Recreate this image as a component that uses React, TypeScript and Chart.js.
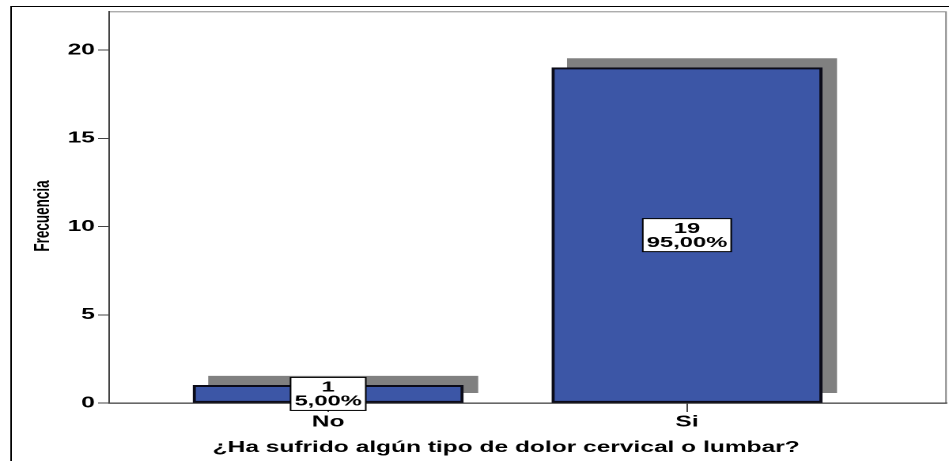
import React, { useEffect, useRef } from 'react';
import { Chart, registerables } from 'chart.js';

Chart.register(...registerables);

// ---- data ----
const categories = ['No', 'Si'];
const frequencies = [1, 19];
const percentLabels = ['5,00%', '95,00%'];
const yTicks = [0, 5, 10, 15, 20];
const yTitle = 'Frecuencia';
const xTitle = '¿Ha sufrido algún tipo de dolor cervical o lumbar?';

// ---- layout (canvas drawn at 600px wide, stretched to 949px like the source image) ----
const CW = 600;
const CH = 461;
const FONT = '"Liberation Sans", Arial, Helvetica, sans-serif';
const BAR_FILL = '#3C56A6';
const SHADOW = '#808080';
const AXIS = '#444444';

const spssPlugin = {
  id: 'spssDecor',
  beforeDraw(chart: any) {
    const { ctx, chartArea: a } = chart;
    ctx.save();
    ctx.strokeStyle = '#000';
    ctx.lineWidth = 1;
    ctx.strokeRect(7, 6.5, 900, 700);
    ctx.strokeStyle = '#8a8a8a';
    ctx.strokeRect(a.left, a.top + 0.5, a.right - a.left - 0.6, a.bottom - a.top);
    ctx.restore();
  },
  beforeDatasetsDraw(chart: any) {
    const { ctx } = chart;
    const meta = chart.getDatasetMeta(0);
    ctx.save();
    ctx.fillStyle = SHADOW;
    meta.data.forEach((bar: any) => {
      const { x, y, base, width } = bar.getProps(['x', 'y', 'base', 'width'], true);
      ctx.fillRect(x - width / 2 + 9.5, y - 9.5, width, base - y);
    });
    ctx.restore();
  },
  afterDatasetsDraw(chart: any) {
    const { ctx } = chart;
    const meta = chart.getDatasetMeta(0);
    ctx.save();
    ctx.font = `bold 15px ${FONT}`;
    ctx.textAlign = 'center';
    ctx.textBaseline = 'middle';
    meta.data.forEach((bar: any, i: number) => {
      const { x, y, base } = bar.getProps(['x', 'y', 'base'], true);
      const cy = (y + base) / 2;
      const lines = [String(frequencies[i]), percentLabels[i]];
      const w = Math.max(...lines.map((t) => ctx.measureText(t).width)) + 5;
      const h = 33;
      ctx.fillStyle = '#fff';
      ctx.fillRect(x - w / 2, cy - h / 2, w, h);
      ctx.strokeStyle = '#000';
      ctx.lineWidth = 1;
      ctx.strokeRect(x - w / 2, cy - h / 2, w, h);
      ctx.fillStyle = '#000';
      ctx.fillText(lines[0], x, cy - 6.5);
      ctx.fillText(lines[1], x, cy + 7.5);
    });
    ctx.restore();
  },
  afterDraw(chart: any) {
    const { ctx } = chart;
    ctx.save();
    ctx.fillStyle = '#000';
    ctx.textAlign = 'center';
    ctx.textBaseline = 'middle';
    ctx.font = `bold 15.5px ${FONT}`;
    ctx.fillText(xTitle, 320, 447.5);
    ctx.translate(27.5, 216);
    ctx.rotate(-Math.PI / 2);
    ctx.font = `bold 13.5px ${FONT}`;
    ctx.fillText(yTitle, 0, 0);
    ctx.restore();
  },
};

export default function App() {
  const ref = useRef<HTMLCanvasElement>(null);

  useEffect(() => {
    const canvas = ref.current;
    if (!canvas) return;
    const tickFont = { family: FONT, size: 15.5, weight: 'bold' as const };
    const chart = new Chart(canvas, {
      type: 'bar',
      data: {
        datasets: [
          {
            data: categories.map((_, i) => ({ x: i, y: frequencies[i] })),
            backgroundColor: BAR_FILL,
            borderColor: '#0b0b18',
            borderWidth: 2,
            borderSkipped: false,
            barThickness: 170.7,
          } as any,
        ],
      },
      options: {
        responsive: false,
        devicePixelRatio: 2,
        animation: false,
        layout: { padding: { left: 0, top: 10, right: 1.3, bottom: 0 } },
        plugins: { legend: { display: false }, tooltip: { enabled: false } },
        scales: {
          x: {
            type: 'linear',
            offset: false,
            min: -0.6104,
            max: 1.7245,
            afterBuildTicks: (s: any) => {
              s.ticks = categories.map((_, i) => ({ value: i }));
            },
            afterFit: (s: any) => {
              s.height = 58;
            },
            ticks: {
              autoSkip: false,
              maxRotation: 0,
              color: '#000',
              padding: 1,
              font: tickFont,
              callback: (v: any) => categories[v as number] ?? '',
            },
            grid: { offset: false, drawOnChartArea: false, drawTicks: true, tickLength: 9, color: AXIS },
            border: { display: true, color: AXIS, width: 1 },
          },
          y: {
            type: 'linear',
            min: 0,
            max: 22.2,
            afterBuildTicks: (s: any) => {
              s.ticks = yTicks.map((v) => ({ value: v }));
            },
            afterFit: (s: any) => {
              s.width = 69;
            },
            ticks: { color: '#000', padding: 2, font: tickFont },
            grid: { drawOnChartArea: false, drawTicks: true, tickLength: 7, color: AXIS },
            border: { display: true, color: AXIS, width: 1 },
          },
        },
      } as any,
      plugins: [spssPlugin],
    });
    return () => chart.destroy();
  }, []);

  return (
    <div style={{ position: 'absolute', left: 0, top: 0, width: 949, height: 461, background: '#fff' }}>
      <canvas
        ref={ref}
        width={CW}
        height={CH}
        style={{ width: '949px', height: '461px', display: 'block' }}
      />
    </div>
  );
}
